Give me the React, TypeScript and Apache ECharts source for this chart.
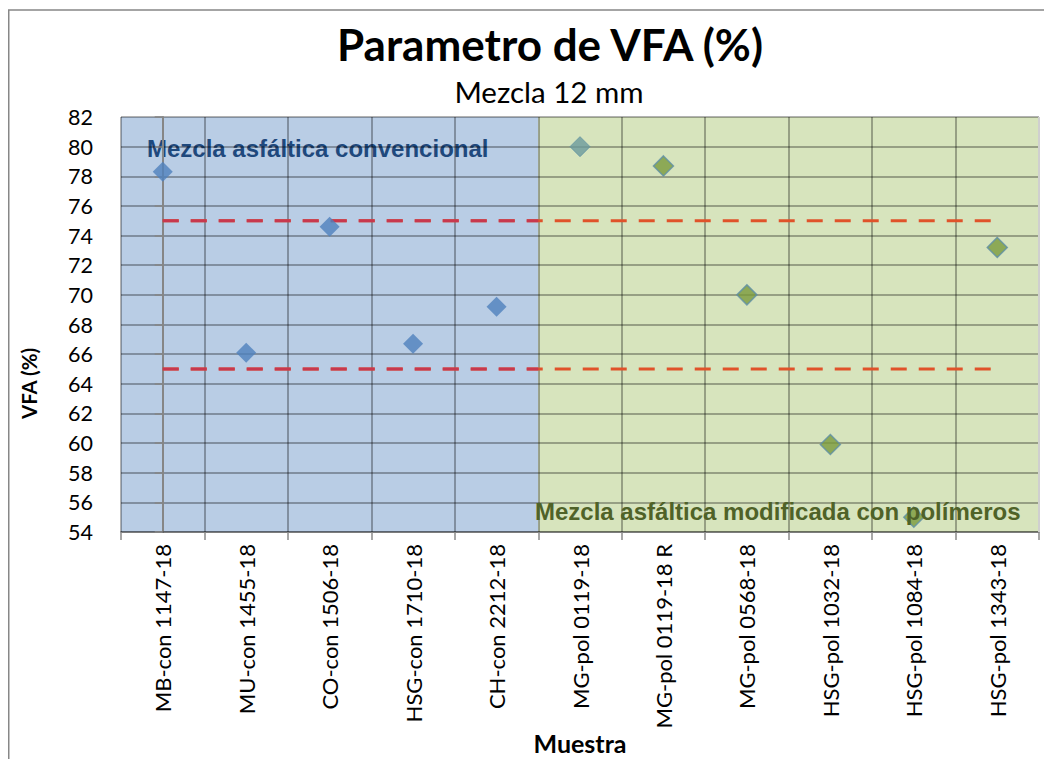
import React, { useEffect, useRef } from "react";
import * as echarts from "echarts";

// ---- data ----
const categories = [
  "MB-con 1147-18",
  "MU-con 1455-18",
  "CO-con 1506-18",
  "HSG-con 1710-18",
  "CH-con 2212-18",
  "MG-pol 0119-18",
  "MG-pol 0119-18 R",
  "MG-pol 0568-18",
  "HSG-pol 1032-18",
  "HSG-pol 1084-18",
  "HSG-pol 1343-18",
];
const vfaValues = [78.3, 66.1, 74.6, 66.7, 69.2, 80.0, 78.7, 70.0, 59.9, 55.0, 73.2];
const conventionalCount = 5; // first 5 samples are conventional mixes
const limitValues = [75, 65];
const limitSpan = [0, 10]; // category index range covered by the limit lines
const yMin = 54;
const yMax = 82;
const yInterval = 2;

const titleText = "Parametro de VFA (%)";
const subtitleText = "Mezcla 12 mm";
const yAxisName = "VFA (%)";
const xAxisName = "Muestra";
const conventionalLabel = "Mezcla asfáltica convencional";
const modifiedLabel = "Mezcla asfáltica modificada con polímeros";

// ---- styles ----
const FONT = "Lato, 'Open Sans', sans-serif";
const ARIAL = "'Liberation Sans', Arial, sans-serif";
const BLUE_BAND = "#B9CDE5";
const GREEN_BAND = "#D7E4BD";
const GRID = "rgba(0,0,0,0.3)";

export default function App() {
  const ref = useRef<HTMLDivElement>(null);

  useEffect(() => {
    if (!ref.current) return;
    const chart = echarts.init(ref.current, null, { renderer: "svg" });

    const boundary = conventionalCount - 0.5;
    const lastEdge = categories.length - 0.5;

    const scatterData = vfaValues.map((v, i) => {
      if (i < conventionalCount) {
        return { value: v, itemStyle: { color: "#4F81BD" } };
      }
      if (i === conventionalCount) {
        return { value: v, itemStyle: { color: "#6B9A9C", borderColor: "#6293A2", borderWidth: 1 } };
      }
      return { value: v, itemStyle: { color: "#7A9A3C", borderColor: "#5E8FA5", borderWidth: 1.5 } };
    });

    const orangeLines = limitValues.map((lim, k) => ({
      type: "line",
      xAxisIndex: 1,
      yAxisIndex: 0,
      z: 4,
      silent: true,
      showSymbol: false,
      symbol: "none",
      data: [
        [limitSpan[0], lim],
        [limitSpan[1], lim],
      ],
      lineStyle: { color: "#E0522A", width: 3, type: [16, 12] },
      ...(k === 0
        ? {
            markArea: {
              silent: true,
              z: 1,
              label: { show: false },
              data: [
                [
                  { xAxis: -0.5, yAxis: yMin, itemStyle: { color: BLUE_BAND } },
                  { xAxis: boundary, yAxis: yMax },
                ],
                [
                  { xAxis: boundary, yAxis: yMin, itemStyle: { color: GREEN_BAND } },
                  { xAxis: lastEdge, yAxis: yMax },
                ],
              ],
            },
          }
        : {}),
    }));

    const crimsonLines = limitValues.map((lim) => ({
      type: "line",
      xAxisIndex: 1,
      yAxisIndex: 0,
      z: 5,
      silent: true,
      showSymbol: false,
      symbol: "none",
      data: [
        [limitSpan[0], lim],
        [boundary, lim],
      ],
      lineStyle: { color: "#C8384E", width: 3, type: [16, 12] },
    }));

    const option: any = {
      animation: false,
      backgroundColor: "#ffffff",
      grid: {
        left: 113,
        top: 109,
        right: 13,
        bottom: 227,
        containLabel: false,
        outerBoundsMode: "none",
      },
      graphic: [
        {
          type: "polyline",
          z: 20,
          shape: { points: [[0.75, 751], [0.75, 2], [1044, 2]] },
          style: { stroke: "#878787", lineWidth: 1.5, fill: "none" },
        },
        {
          type: "line",
          z: 20,
          shape: { x1: 1031, y1: 109, x2: 1031, y2: 524 },
          style: { stroke: "#CFCFCF", lineWidth: 2 },
        },
        {
          type: "text",
          x: 542,
          y: 36,
          z: 20,
          style: {
            text: titleText,
            fontFamily: FONT,
            fontWeight: "bold",
            fontSize: 44,
            fill: "#000",
            align: "center",
            verticalAlign: "middle",
            textAlign: "center",
            textVerticalAlign: "middle",
          },
        },
        {
          type: "text",
          x: 541,
          y: 83,
          z: 20,
          style: {
            text: subtitleText,
            fontFamily: FONT,
            fontSize: 29.5,
            fill: "#000",
            align: "center",
            verticalAlign: "middle",
            textAlign: "center",
            textVerticalAlign: "middle",
          },
        },
        {
          type: "text",
          x: 139,
          y: 140,
          z: 2,
          style: {
            text: conventionalLabel,
            fontFamily: ARIAL,
            fontWeight: "bold",
            fontSize: 24,
            fill: "#1F497D",
            align: "left",
            verticalAlign: "middle",
            textAlign: "left",
            textVerticalAlign: "middle",
          },
        },
        {
          type: "text",
          x: 527,
          y: 503,
          z: 10,
          style: {
            text: modifiedLabel,
            fontFamily: ARIAL,
            fontWeight: "bold",
            fontSize: 24,
            fill: "#4F6228",
            align: "left",
            verticalAlign: "middle",
            textAlign: "left",
            textVerticalAlign: "middle",
          },
        },
      ],
      xAxis: [
        {
          type: "category",
          data: categories,
          boundaryGap: true,
          z: 3,
          axisLine: { show: true, lineStyle: { color: GRID, width: 2 } },
          axisTick: { show: true, length: 8, lineStyle: { color: "#8A8A8A", width: 1.5 } },
          axisLabel: {
            rotate: 90,
            interval: 0,
            margin: 12,
            fontSize: 22,
            fontFamily: FONT,
            color: "#000",
          },
          splitLine: { show: true, showMaxLine: false, lineStyle: { color: GRID, width: 2 } },
          name: xAxisName,
          nameLocation: "middle",
          nameGap: 198,
          nameMoveOverlap: false,
          nameTextStyle: { fontFamily: FONT, fontWeight: "bold", fontSize: 25, color: "#000" },
        },
        {
          type: "value",
          min: -0.5,
          max: lastEdge,
          show: false,
          splitLine: { show: false },
        },
      ],
      yAxis: {
        type: "value",
        min: yMin,
        max: yMax,
        interval: yInterval,
        z: 3,
        axisLine: { show: true, lineStyle: { color: "#868686", width: 2 } },
        axisTick: { show: true, length: 8, lineStyle: { color: "#868686", width: 1.5 } },
        axisLabel: { fontSize: 21.5, fontFamily: FONT, color: "#000", margin: 28 },
        splitLine: { show: true, lineStyle: { color: GRID, width: 2 } },
        name: yAxisName,
        nameLocation: "middle",
        nameRotate: 90,
        nameGap: 82,
        nameMoveOverlap: false,
        nameTextStyle: {
          fontFamily: FONT,
          fontWeight: "bold",
          fontSize: 20.5,
          color: "#000",
          padding: [0, 118, 0, 0],
        },
      },
      series: [
        ...orangeLines,
        ...crimsonLines,
        {
          type: "scatter",
          xAxisIndex: 0,
          yAxisIndex: 0,
          z: 6,
          symbol: "diamond",
          symbolSize: 20,
          data: scatterData,
        },
      ],
    };

    chart.setOption(option);
    return () => chart.dispose();
  }, []);

  return <div ref={ref} style={{ width: 1044, height: 751 }} />;
}
